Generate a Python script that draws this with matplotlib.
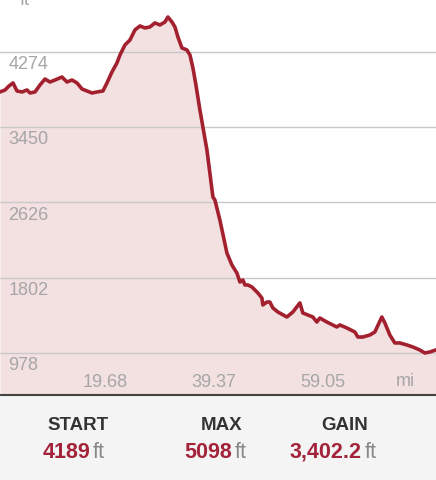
import numpy as np
import matplotlib.pyplot as plt

plt.rcParams['font.family'] = ['Liberation Sans', 'DejaVu Sans']

# elevation profile (distance in mi, elevation in ft)
dist_mi = [0.72, 1.63, 2.35, 3.07, 3.79, 4.70, 5.60, 6.14, 7.04, 7.95,
           8.85, 9.75, 10.66, 11.92, 12.82, 13.73, 14.63, 15.53, 16.43, 17.34,
           18.24, 19.32, 20.05, 20.95, 21.85, 22.40, 23.30, 24.20, 25.10, 26.01,
           26.91, 27.81, 28.72, 29.62, 30.52, 31.06, 31.79, 32.33, 32.87, 33.59,
           34.49, 35.04, 35.58, 36.12, 36.84, 37.38, 38.11, 39.19, 39.55, 40.45,
           41.72, 42.62, 43.52, 44.07, 44.61, 44.97, 45.51, 46.23, 47.32, 48.04,
           48.22, 48.94, 49.48, 50.03, 50.93, 52.55, 53.64, 54.90, 55.44, 56.35,
           57.25, 57.97, 58.51, 59.78, 61.58, 62.13, 63.39, 64.84, 65.38, 66.28,
           67.55, 68.45, 69.71, 70.26, 71.16, 72.06, 72.96, 74.23, 75.31, 76.58,
           77.48, 78.38, 79.47]
elev_ft = [3836, 3858, 3902, 3935, 3847, 3836, 3858, 3825, 3836, 3913,
           3978, 3945, 3967, 4000, 3945, 3967, 3935, 3869, 3847, 3825,
           3836, 3847, 3935, 4055, 4154, 4241, 4351, 4405, 4515, 4559,
           4537, 4548, 4592, 4570, 4602, 4657, 4602, 4548, 4438, 4318,
           4296, 4241, 4099, 3913, 3639, 3453, 3201, 2686, 2653, 2434,
           2073, 1942, 1854, 1755, 1777, 1723, 1723, 1701, 1635, 1580,
           1504, 1536, 1536, 1471, 1427, 1372, 1427, 1526, 1416, 1394,
           1372, 1317, 1361, 1317, 1263, 1285, 1252, 1208, 1153, 1153,
           1175, 1208, 1372, 1307, 1175, 1088, 1088, 1066, 1044, 1011,
           978, 989, 1011]

y_ticks = [978, 1802, 2626, 3450, 4274]
x_ticks = [19.68, 39.37, 59.05]

stat_names = ['START', 'MAX', 'GAIN']
stat_values = ['4189', '5098', '3,402.2']

# pixel anchors for the footer: label centre, right edge of the number
name_x = [78, 222, 345]
value_right = [90, 232, 362]

line_col = '#a3202e'
fill_col = '#f3e0e1'
grid_col = '#c8c8c8'
label_col = '#a6a6a6'

fig = plt.figure(figsize=(4.36, 4.8), dpi=100)
fig.patch.set_facecolor('#f4f4f4')
ax = fig.add_axes([0, 85/480, 1, 395/480])
ax.set_facecolor('white')

ymin, ymax = 518, 4843
ax.set_xlim(0.72, 79.5)
ax.set_ylim(ymin, ymax)

ax.fill_between(dist_mi, elev_ft, ymin, color=fill_col, lw=0, zorder=1)
for t in y_ticks:
    ax.axhline(t, color=grid_col, lw=1.0, zorder=2)
ax.plot(dist_mi, elev_ft, color=line_col, lw=2.6, solid_joinstyle='round', zorder=3)

for t in y_ticks:
    ax.annotate(str(t), xy=(0, t), xycoords=('axes fraction', 'data'),
                xytext=(6, -3), textcoords='offset points', ha='left', va='top',
                fontsize=13, color=label_col, zorder=4)
for t in x_ticks:
    ax.annotate('%.2f' % t, xy=(t, 0), xycoords=('data', 'axes fraction'),
                xytext=(0, 3), textcoords='offset points', ha='center', va='bottom',
                fontsize=13, color=label_col, zorder=4)
ax.text(405/436, 14/395, 'mi', transform=ax.transAxes, ha='center', va='center',
        fontsize=13, color=label_col)
ax.text(25/436, 0.999, 'ft', transform=ax.transAxes, ha='center', va='center',
        fontsize=13, color=label_col)

ax.set_xticks([])
ax.set_yticks([])
for s in ['top', 'left', 'right']:
    ax.spines[s].set_visible(False)
ax.spines['bottom'].set_color('#444444')
ax.spines['bottom'].set_linewidth(1.5)
ax.spines['bottom'].set_zorder(5)

# footer summary
for name, val, nx, vr in zip(stat_names, stat_values, name_x, value_right):
    fig.text(nx/436, 1 - 425/480, name, ha='center', va='center',
             fontsize=13.5, fontweight='bold', color='#333333')
    fig.text(vr/436, 1 - 452/480, val, ha='right', va='center',
             fontsize=15.5, fontweight='bold', color='#a3243a')
    fig.text((vr + 3)/436, 1 - 452/480, 'ft', ha='left', va='center',
             fontsize=15.5, color='#888888')

fig.savefig('out.png', dpi=100, facecolor=fig.get_facecolor())
